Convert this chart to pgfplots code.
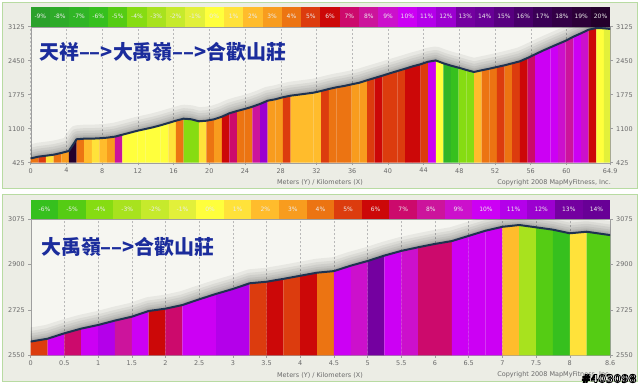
\documentclass[border=0pt]{standalone}
\usepackage{pgfplots}
\pgfplotsset{compat=1.18}
\usepackage{pgfplotstable}
\usepackage{fontspec}
\setmainfont{DejaVu Sans}
\newfontfamily\cjk{Noto Sans CJK TC}
\definecolor{gm9}{HTML}{2BA12B}
\definecolor{gm8}{HTML}{2EAB29}
\definecolor{gm7}{HTML}{30B526}
\definecolor{gm6}{HTML}{36C01E}
\definecolor{gm5}{HTML}{55CC14}
\definecolor{gm4}{HTML}{86DC12}
\definecolor{gm3}{HTML}{A8E21E}
\definecolor{gm2}{HTML}{C6EA2C}
\definecolor{gm1}{HTML}{E2F03A}
\definecolor{gp0}{HTML}{FFFF3C}
\definecolor{gp1}{HTML}{FFE23A}
\definecolor{gp2}{HTML}{FFBC2C}
\definecolor{gp3}{HTML}{F89C1E}
\definecolor{gp4}{HTML}{EC7412}
\definecolor{gp5}{HTML}{DC3C0E}
\definecolor{gp6}{HTML}{CC0808}
\definecolor{gp7}{HTML}{CC0A6C}
\definecolor{gp8}{HTML}{CC149C}
\definecolor{gp9}{HTML}{CC10CC}
\definecolor{gp10}{HTML}{CC00F4}
\definecolor{gp11}{HTML}{B400EA}
\definecolor{gp12}{HTML}{9C00D0}
\definecolor{gp13}{HTML}{7400A0}
\definecolor{gp14}{HTML}{680096}
\definecolor{gp15}{HTML}{580080}
\definecolor{gp16}{HTML}{48006A}
\definecolor{gp17}{HTML}{3A0056}
\definecolor{gp18}{HTML}{330046}
\definecolor{gp19}{HTML}{2C0038}
\definecolor{gp20}{HTML}{24002C}
\definecolor{panelbg}{HTML}{ECEDE5}
\definecolor{panelframe}{HTML}{B8DBA2}
\definecolor{plotbg}{HTML}{F6F6F1}
\definecolor{profline}{HTML}{1E3250}
\definecolor{titleblue}{HTML}{1B2C9C}
\definecolor{ticktext}{HTML}{6A6A6A}

\pgfplotstableread{
x y
0 510
0.856 545
1.712 564
2.568 584
3.424 618
4.280 658
5.136 890
5.992 902
6.848 902
7.704 910
8.560 922
9.416 942
10.272 981
11.128 1021
11.984 1061
12.840 1094
13.696 1128
14.552 1168
15.408 1213
16.264 1259
17.120 1299
17.976 1287
18.832 1247
19.688 1259
20.544 1287
21.400 1338
22.256 1406
23.112 1452
23.968 1491
24.824 1537
25.680 1591
26.536 1656
27.392 1684
28.248 1724
29.104 1756
29.960 1775
30.816 1795
31.672 1815
32.528 1849
33.384 1888
34.240 1922
35.096 1948
35.952 1981
36.808 2013
37.664 2061
38.520 2107
39.376 2152
40.232 2200
41.088 2246
41.944 2291
42.800 2339
43.656 2379
44.512 2430
45.368 2455
46.224 2398
47.080 2351
47.936 2311
48.792 2266
49.648 2226
50.504 2260
51.360 2291
52.216 2325
53.072 2359
53.928 2398
54.784 2438
55.640 2504
56.496 2577
57.352 2649
58.208 2716
59.064 2782
59.920 2847
60.776 2926
61.632 2994
62.488 3066
63.344 3099
64.200 3093
64.900 3080
}\topprof

\pgfplotstableread{
x y
0 2603
0.25 2614
0.5 2635
0.75 2653
1 2667
1.25 2684
1.5 2699
1.75 2721
2 2730
2.25 2744
2.5 2766
2.75 2787
3 2806
3.25 2828
3.5 2834
3.75 2845
4 2857
4.25 2869
4.5 2875
4.75 2896
5 2914
5.25 2935
5.5 2953
5.75 2967
6 2980
6.25 2991
6.5 3011
6.75 3031
7 3046
7.25 3053
7.5 3044
7.75 3035
8 3021
8.25 3027
8.6 3014
}\botprof

\pgfplotsset{
  prof/.style={
    scale only axis, width=579.5bp, height=136bp,
    axis background/.style={fill=plotbg},
    axis line style={draw=gray!75},
    tick style={draw=gray!75, line width=0.5bp},
    tick align=outside, major tick length=2.5bp,
    xtick pos=bottom, ytick pos=both,
    ticklabel style={font=\fontsize{6.5}{7}\selectfont, text=ticktext},
    /pgf/number format/assume math mode=true,
    /pgf/number format/1000 sep={},
    xmajorgrids, grid style={gray!55, line width=0.4bp, dash pattern=on 2bp off 2bp},
    xticklabel style={yshift=0.5bp},
  },
  rlab/.style={
    scale only axis, width=579.5bp, height=136bp,
    axis line style={draw=none}, xtick=\empty,
    tick style={draw=gray!75, line width=0.5bp},
    tick align=outside, major tick length=2.5bp,
    ytick pos=right, yticklabel pos=right,
    ticklabel style={font=\fontsize{6.5}{7}\selectfont, text=ticktext},
    /pgf/number format/assume math mode=true,
    /pgf/number format/1000 sep={},
  },
  seg/.style={fill=#1, draw=none},
  shad/.style={no markers, draw=black, line join=round, opacity=0.055},
}

\begin{document}
\begin{tikzpicture}
\path[use as bounding box] (0,0) rectangle (640bp,-386bp);
\fill[white] (0,0) rectangle (640bp,-386bp);
\filldraw[fill=panelbg, draw=panelframe, line width=1bp] (2.5bp,-2.5bp) rectangle (637.5bp,-188.5bp);
\filldraw[fill=panelbg, draw=panelframe, line width=1bp] (2.5bp,-194.5bp) rectangle (637.5bp,-381bp);

% ---------------- top panel ----------------
\begin{axis}[prof, at={(30.7bp,-162.7bp)}, anchor=south west,
  xmin=0, xmax=64.9, ymin=425, ymax=3125,
  xtick={0,4,...,60,64.9}, ytick={425,1100,1775,2450,3125}]
\addplot[shad, line width=16bp, yshift=6bp] table {\topprof};
\addplot[shad, line width=12bp, yshift=4.5bp] table {\topprof};
\addplot[shad, line width=9bp, yshift=3.5bp] table {\topprof};
\addplot[shad, line width=6bp, yshift=2.5bp] table {\topprof};
\addplot[shad, line width=4bp, yshift=1.5bp] table {\topprof};
\addplot[shad, line width=2.5bp, yshift=1bp] table {\topprof};
\addplot[seg=gp4] coordinates {(0,510)(0.856,545)} \closedcycle;
\addplot[seg=gp5] coordinates {(0.856,545)(1.712,564)} \closedcycle;
\addplot[seg=gp1] coordinates {(1.712,564)(2.568,584)} \closedcycle;
\addplot[seg=gp4] coordinates {(2.568,584)(3.424,618)} \closedcycle;
\addplot[seg=gp3] coordinates {(3.424,618)(4.280,658)} \closedcycle;
\addplot[seg=gp20] coordinates {(4.280,658)(5.136,890)} \closedcycle;
\addplot[seg=gp4] coordinates {(5.136,890)(5.992,902)} \closedcycle;
\addplot[seg=gp2] coordinates {(5.992,902)(6.848,902)} \closedcycle;
\addplot[seg=gp1] coordinates {(6.848,902)(7.704,910)} \closedcycle;
\addplot[seg=gp2] coordinates {(7.704,910)(8.560,922)} \closedcycle;
\addplot[seg=gp3] coordinates {(8.560,922)(9.416,942)} \closedcycle;
\addplot[seg=gp8] coordinates {(9.416,942)(10.272,981)} \closedcycle;
\addplot[seg=gp0] coordinates {(10.272,981)(11.128,1021)} \closedcycle;
\addplot[seg=gp0] coordinates {(11.128,1021)(11.984,1061)} \closedcycle;
\addplot[seg=gp0] coordinates {(11.984,1061)(12.840,1094)} \closedcycle;
\addplot[seg=gp0] coordinates {(12.840,1094)(13.696,1128)} \closedcycle;
\addplot[seg=gp0] coordinates {(13.696,1128)(14.552,1168)} \closedcycle;
\addplot[seg=gp0] coordinates {(14.552,1168)(15.408,1213)} \closedcycle;
\addplot[seg=gp1] coordinates {(15.408,1213)(16.264,1259)} \closedcycle;
\addplot[seg=gp4] coordinates {(16.264,1259)(17.120,1299)} \closedcycle;
\addplot[seg=gm4] coordinates {(17.120,1299)(17.976,1287)} \closedcycle;
\addplot[seg=gm4] coordinates {(17.976,1287)(18.832,1247)} \closedcycle;
\addplot[seg=gp1] coordinates {(18.832,1247)(19.688,1259)} \closedcycle;
\addplot[seg=gp4] coordinates {(19.688,1259)(20.544,1287)} \closedcycle;
\addplot[seg=gp3] coordinates {(20.544,1287)(21.400,1338)} \closedcycle;
\addplot[seg=gp6] coordinates {(21.400,1338)(22.256,1406)} \closedcycle;
\addplot[seg=gp7] coordinates {(22.256,1406)(23.112,1452)} \closedcycle;
\addplot[seg=gp4] coordinates {(23.112,1452)(23.968,1491)} \closedcycle;
\addplot[seg=gp4] coordinates {(23.968,1491)(24.824,1537)} \closedcycle;
\addplot[seg=gp8] coordinates {(24.824,1537)(25.680,1591)} \closedcycle;
\addplot[seg=gp12] coordinates {(25.680,1591)(26.536,1656)} \closedcycle;
\addplot[seg=gp3] coordinates {(26.536,1656)(27.392,1684)} \closedcycle;
\addplot[seg=gp3] coordinates {(27.392,1684)(28.248,1724)} \closedcycle;
\addplot[seg=gp5] coordinates {(28.248,1724)(29.104,1756)} \closedcycle;
\addplot[seg=gp2] coordinates {(29.104,1756)(29.960,1775)} \closedcycle;
\addplot[seg=gp2] coordinates {(29.960,1775)(30.816,1795)} \closedcycle;
\addplot[seg=gp2] coordinates {(30.816,1795)(31.672,1815)} \closedcycle;
\addplot[seg=gp2] coordinates {(31.672,1815)(32.528,1849)} \closedcycle;
\addplot[seg=gp5] coordinates {(32.528,1849)(33.384,1888)} \closedcycle;
\addplot[seg=gp4] coordinates {(33.384,1888)(34.240,1922)} \closedcycle;
\addplot[seg=gp4] coordinates {(34.240,1922)(35.096,1948)} \closedcycle;
\addplot[seg=gp4] coordinates {(35.096,1948)(35.952,1981)} \closedcycle;
\addplot[seg=gp3] coordinates {(35.952,1981)(36.808,2013)} \closedcycle;
\addplot[seg=gp3] coordinates {(36.808,2013)(37.664,2061)} \closedcycle;
\addplot[seg=gp5] coordinates {(37.664,2061)(38.520,2107)} \closedcycle;
\addplot[seg=gp6] coordinates {(38.520,2107)(39.376,2152)} \closedcycle;
\addplot[seg=gp5] coordinates {(39.376,2152)(40.232,2200)} \closedcycle;
\addplot[seg=gp5] coordinates {(40.232,2200)(41.088,2246)} \closedcycle;
\addplot[seg=gp5] coordinates {(41.088,2246)(41.944,2291)} \closedcycle;
\addplot[seg=gp6] coordinates {(41.944,2291)(42.800,2339)} \closedcycle;
\addplot[seg=gp6] coordinates {(42.800,2339)(43.656,2379)} \closedcycle;
\addplot[seg=gp5] coordinates {(43.656,2379)(44.512,2430)} \closedcycle;
\addplot[seg=gp10] coordinates {(44.512,2430)(45.368,2455)} \closedcycle;
\addplot[seg=gp0] coordinates {(45.368,2455)(46.224,2398)} \closedcycle;
\addplot[seg=gm7] coordinates {(46.224,2398)(47.080,2351)} \closedcycle;
\addplot[seg=gm6] coordinates {(47.080,2351)(47.936,2311)} \closedcycle;
\addplot[seg=gm4] coordinates {(47.936,2311)(48.792,2266)} \closedcycle;
\addplot[seg=gm4] coordinates {(48.792,2266)(49.648,2226)} \closedcycle;
\addplot[seg=gp2] coordinates {(49.648,2226)(50.504,2260)} \closedcycle;
\addplot[seg=gp4] coordinates {(50.504,2260)(51.360,2291)} \closedcycle;
\addplot[seg=gp4] coordinates {(51.360,2291)(52.216,2325)} \closedcycle;
\addplot[seg=gp5] coordinates {(52.216,2325)(53.072,2359)} \closedcycle;
\addplot[seg=gp4] coordinates {(53.072,2359)(53.928,2398)} \closedcycle;
\addplot[seg=gp5] coordinates {(53.928,2398)(54.784,2438)} \closedcycle;
\addplot[seg=gp6] coordinates {(54.784,2438)(55.640,2504)} \closedcycle;
\addplot[seg=gp7] coordinates {(55.640,2504)(56.496,2577)} \closedcycle;
\addplot[seg=gp10] coordinates {(56.496,2577)(57.352,2649)} \closedcycle;
\addplot[seg=gp10] coordinates {(57.352,2649)(58.208,2716)} \closedcycle;
\addplot[seg=gp10] coordinates {(58.208,2716)(59.064,2782)} \closedcycle;
\addplot[seg=gp9] coordinates {(59.064,2782)(59.920,2847)} \closedcycle;
\addplot[seg=gp8] coordinates {(59.920,2847)(60.776,2926)} \closedcycle;
\addplot[seg=gp10] coordinates {(60.776,2926)(61.632,2994)} \closedcycle;
\addplot[seg=gp9] coordinates {(61.632,2994)(62.488,3066)} \closedcycle;
\addplot[seg=gp6] coordinates {(62.488,3066)(63.344,3099)} \closedcycle;
\addplot[seg=gp0] coordinates {(63.344,3099)(64.200,3093)} \closedcycle;
\addplot[seg=gm1] coordinates {(64.200,3093)(64.900,3080)} \closedcycle;
\addplot[no markers, draw=profline, line width=2bp, line join=round] table {\topprof};
\end{axis}
\begin{axis}[rlab, at={(30.7bp,-162.7bp)}, anchor=south west,
  xmin=0, xmax=64.9, ymin=425, ymax=3125, ytick={425,1100,1775,2450,3125}]
\addplot[draw=none] coordinates {(0,425)};
\end{axis}

% ---------------- bottom panel ----------------
\begin{axis}[prof, at={(30.7bp,-355.3bp)}, anchor=south west,
  xmin=0, xmax=8.6, ymin=2550, ymax=3075,
  xtick={0,0.5,...,8,8.6}, ytick={2550,2725,2900,3075}]
\addplot[shad, line width=16bp, yshift=6bp] table {\botprof};
\addplot[shad, line width=12bp, yshift=4.5bp] table {\botprof};
\addplot[shad, line width=9bp, yshift=3.5bp] table {\botprof};
\addplot[shad, line width=6bp, yshift=2.5bp] table {\botprof};
\addplot[shad, line width=4bp, yshift=1.5bp] table {\botprof};
\addplot[shad, line width=2.5bp, yshift=1bp] table {\botprof};
\addplot[seg=gp5] coordinates {(0,2603)(0.25,2614)} \closedcycle;
\addplot[seg=gp10] coordinates {(0.25,2614)(0.5,2635)} \closedcycle;
\addplot[seg=gp7] coordinates {(0.5,2635)(0.75,2653)} \closedcycle;
\addplot[seg=gp10] coordinates {(0.75,2653)(1,2667)} \closedcycle;
\addplot[seg=gp11] coordinates {(1,2667)(1.25,2684)} \closedcycle;
\addplot[seg=gp8] coordinates {(1.25,2684)(1.5,2699)} \closedcycle;
\addplot[seg=gp10] coordinates {(1.5,2699)(1.75,2721)} \closedcycle;
\addplot[seg=gp6] coordinates {(1.75,2721)(2,2730)} \closedcycle;
\addplot[seg=gp7] coordinates {(2,2730)(2.25,2744)} \closedcycle;
\addplot[seg=gp10] coordinates {(2.25,2744)(2.5,2766)} \closedcycle;
\addplot[seg=gp10] coordinates {(2.5,2766)(2.75,2787)} \closedcycle;
\addplot[seg=gp11] coordinates {(2.75,2787)(3,2806)} \closedcycle;
\addplot[seg=gp11] coordinates {(3,2806)(3.25,2828)} \closedcycle;
\addplot[seg=gp5] coordinates {(3.25,2828)(3.5,2834)} \closedcycle;
\addplot[seg=gp6] coordinates {(3.5,2834)(3.75,2845)} \closedcycle;
\addplot[seg=gp5] coordinates {(3.75,2845)(4,2857)} \closedcycle;
\addplot[seg=gp6] coordinates {(4,2857)(4.25,2869)} \closedcycle;
\addplot[seg=gp4] coordinates {(4.25,2869)(4.5,2875)} \closedcycle;
\addplot[seg=gp10] coordinates {(4.5,2875)(4.75,2896)} \closedcycle;
\addplot[seg=gp9] coordinates {(4.75,2896)(5,2914)} \closedcycle;
\addplot[seg=gp13] coordinates {(5,2914)(5.25,2935)} \closedcycle;
\addplot[seg=gp10] coordinates {(5.25,2935)(5.5,2953)} \closedcycle;
\addplot[seg=gp9] coordinates {(5.5,2953)(5.75,2967)} \closedcycle;
\addplot[seg=gp7] coordinates {(5.75,2967)(6,2980)} \closedcycle;
\addplot[seg=gp7] coordinates {(6,2980)(6.25,2991)} \closedcycle;
\addplot[seg=gp10] coordinates {(6.25,2991)(6.5,3011)} \closedcycle;
\addplot[seg=gp10] coordinates {(6.5,3011)(6.75,3031)} \closedcycle;
\addplot[seg=gp10] coordinates {(6.75,3031)(7,3046)} \closedcycle;
\addplot[seg=gp2] coordinates {(7,3046)(7.25,3053)} \closedcycle;
\addplot[seg=gm3] coordinates {(7.25,3053)(7.5,3044)} \closedcycle;
\addplot[seg=gm5] coordinates {(7.5,3044)(7.75,3035)} \closedcycle;
\addplot[seg=gm6] coordinates {(7.75,3035)(8,3021)} \closedcycle;
\addplot[seg=gp1] coordinates {(8,3021)(8.25,3027)} \closedcycle;
\addplot[seg=gm5] coordinates {(8.25,3027)(8.6,3014)} \closedcycle;
\addplot[no markers, draw=profline, line width=2bp, line join=round] table {\botprof};
\end{axis}
\begin{axis}[rlab, at={(30.7bp,-355.3bp)}, anchor=south west,
  xmin=0, xmax=8.6, ymin=2550, ymax=3075, ytick={2550,2725,2900,3075}]
\addplot[draw=none] coordinates {(0,2550)};
\end{axis}

% ---------------- grade colour scales ----------------
\foreach \c/\t [count=\i from 0] in {gm9/-9,gm8/-8,gm7/-7,gm6/-6,gm5/-5,gm4/-4,gm3/-3,gm2/-2,gm1/-1,gp0/0,gp1/1,gp2/2,gp3/3,gp4/4,gp5/5,gp6/6,gp7/7,gp8/8,gp9/9,gp10/10,gp11/11,gp12/12,gp13/13,gp14/14,gp15/15,gp16/16,gp17/17,gp18/18,gp19/19,gp20/20}{
  \fill[\c] ({30.7bp+\i*19.317bp},-7.3bp) rectangle ++(19.317bp,-19.4bp);
  \node[text=white!85!gray, font=\fontsize{6}{7}\selectfont, inner sep=0pt] at ({30.7bp+(\i+0.5)*19.317bp},-16.5bp) {\t\%};
}
\foreach \c/\t [count=\i from 0] in {gm6/-6,gm5/-5,gm4/-4,gm3/-3,gm2/-2,gm1/-1,gp0/0,gp1/1,gp2/2,gp3/3,gp4/4,gp5/5,gp6/6,gp7/7,gp8/8,gp9/9,gp10/10,gp11/11,gp12/12,gp13/13,gp14/14}{
  \fill[\c] ({30.7bp+\i*27.595bp},-200bp) rectangle ++(27.595bp,-19.3bp);
  \node[text=white!85!gray, font=\fontsize{6}{7}\selectfont, inner sep=0pt] at ({30.7bp+(\i+0.5)*27.595bp},-209.3bp) {\t\%};
}

% ---------------- titles and texts ----------------
\node[anchor=west, text=titleblue, font=\cjk\bfseries\fontsize{20}{24}\selectfont, inner sep=0pt] at (39bp,-52bp) {天祥––>大禹嶺––>合歡山莊};
\node[anchor=west, text=titleblue, font=\cjk\bfseries\fontsize{20}{24}\selectfont, inner sep=0pt] at (41bp,-246.5bp) {大禹嶺––>合歡山莊};

\node[text=ticktext, font=\fontsize{6.5}{7}\selectfont, inner sep=0pt] at (320bp,-182.7bp) {Meters (Y) / Kilometers (X)};
\node[anchor=east, text=ticktext, font=\fontsize{6.5}{7}\selectfont, inner sep=0pt] at (611bp,-182.7bp) {Copyright 2008 MapMyFitness, Inc.};
\node[text=ticktext, font=\fontsize{6.5}{7}\selectfont, inner sep=0pt] at (320bp,-375bp) {Meters (Y) / Kilometers (X)};
\node[anchor=east, text=ticktext, font=\fontsize{6.5}{7}\selectfont, inner sep=0pt] at (611bp,-375bp) {Copyright 2008 MapMyFitness, Inc.};

% watermark (outlined text)
\node[text=white, font=\bfseries\fontsize{11}{12}\selectfont, inner sep=0pt] at (609bp,-378.5bp) {\special{pdf:literal direct 2 Tr 0.9 w 0 0 0 RG}\#403098\special{pdf:literal direct 0 Tr}};
\end{tikzpicture}
\end{document}
